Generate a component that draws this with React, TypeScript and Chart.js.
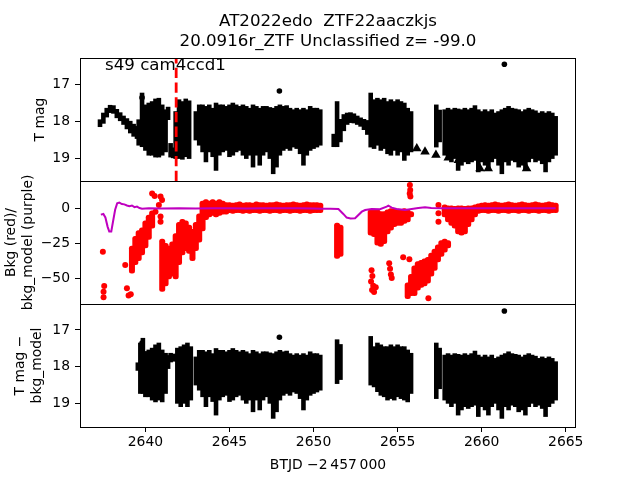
import React, { useEffect, useRef } from "react";
import { Chart, registerables } from "chart.js";

Chart.register(...registerables);

type Col = [number, number, number]; // [time, upper value, lower value]
type Pt = [number, number];

// ---------------- text ----------------
const titleLines = ["AT2022edo  ZTF22aaczkjs", "20.0916r_ZTF Unclassified z= -99.0"];
const sectorText = "s49 cam4ccd1";
const xTitle = "BTJD \u22122\u2009457\u2009000";
const magTitle = "T mag";
const bkgTitle = ["Bkg (red)/", "bkg_model (purple)"];
const detTitle = ["T mag \u2212", "bkg_model"];

// ---------------- axes ----------------
const timeRange: [number, number] = [2636.11, 2665.61];
const magRange: [number, number] = [16.29, 19.61];
const bkgRange: [number, number] = [-67.97, 19.39];
const detRange: [number, number] = [16.29, 19.65];
const timeTicks = [2640, 2645, 2650, 2655, 2660, 2665];
const magTicks = [17, 18, 19];
const bkgTicks = [0, -25, -50];
const markerTime = 2641.83;

// ---------------- panel 1: T mag ----------------
const magEarlyCols: Col[] = [
  [2637.3, 17.96, 18.14], [2637.5, 17.78, 18.05], [2637.7, 17.65, 17.88], [2637.9, 17.57, 17.76],
  [2638.1, 17.58, 17.78], [2638.3, 17.68, 17.9], [2638.5, 17.77, 17.98], [2638.7, 17.86, 18.08],
  [2638.9, 17.93, 18.2], [2639.1, 18.0, 18.31], [2639.3, 18.08, 18.4], [2639.5, 18.14, 18.46],
  [2639.6, 17.96, 18.64], [2639.8, 17.24, 18.68], [2640.0, 17.56, 18.78], [2640.2, 17.51, 18.91],
  [2640.4, 17.47, 18.91], [2640.6, 17.4, 18.96], [2640.8, 17.38, 18.96], [2641.0, 17.56, 18.91],
  [2641.2, 17.69, 18.82], [2641.35, 17.62, 17.95], [2641.5, 18.6, 18.96], [2641.65, 18.72, 18.98],
  [2641.8, 17.74, 19.0], [2642.0, 17.42, 19.0], [2642.2, 17.47, 19.02], [2642.4, 17.4, 18.95],
  [2642.6, 17.45, 19.0],
];
const quietCols1: Col[] = [
  [2643.0, 17.74, 18.5], [2643.2, 17.56, 18.64], [2643.4, 17.56, 18.82], [2643.6, 17.6, 19.09],
  [2643.8, 17.56, 18.82], [2644.0, 17.65, 18.95], [2644.2, 17.51, 19.32], [2644.4, 17.56, 18.91],
  [2644.6, 17.56, 18.82], [2644.8, 17.6, 18.78], [2645.0, 17.56, 18.95], [2645.2, 17.51, 18.91],
  [2645.4, 17.56, 18.82], [2645.6, 17.6, 18.78], [2645.8, 17.56, 18.91], [2646.0, 17.6, 19.0],
  [2646.2, 17.65, 18.91], [2646.4, 17.56, 19.23], [2646.6, 17.6, 18.91], [2646.8, 17.65, 19.18],
  [2647.0, 17.6, 18.91], [2647.2, 17.6, 18.82], [2647.4, 17.63, 19.0], [2647.6, 17.65, 19.41],
  [2647.8, 17.6, 19.23], [2648.0, 17.56, 18.91], [2648.2, 17.6, 18.78], [2648.4, 17.58, 18.73],
  [2648.6, 17.65, 18.78], [2648.8, 17.69, 18.69], [2649.0, 17.65, 18.73], [2649.2, 17.69, 18.87],
  [2649.4, 17.65, 19.18], [2649.6, 17.69, 18.91], [2649.8, 17.6, 18.78], [2650.0, 17.65, 18.73],
  [2650.2, 17.65, 18.69], [2650.4, 17.69, 18.64],
];
const magMidCols: Col[] = [
  [2651.2, 18.35, 18.68], [2651.4, 17.47, 18.68], [2651.6, 17.95, 18.55], [2651.8, 17.82, 18.25],
  [2652.0, 17.78, 18.08], [2652.2, 17.77, 18.03], [2652.4, 17.8, 18.04], [2652.6, 17.86, 18.08],
  [2652.8, 17.91, 18.13], [2653.0, 17.95, 18.22], [2653.2, 17.98, 18.35],
  [2653.4, 17.24, 18.69], [2653.6, 17.42, 18.73], [2653.8, 17.38, 18.64], [2654.0, 17.42, 18.78],
  [2654.2, 17.38, 18.73], [2654.4, 17.47, 18.87], [2654.6, 17.42, 18.91], [2654.8, 17.47, 18.78],
  [2655.0, 17.42, 18.91], [2655.2, 17.47, 18.82], [2655.4, 17.51, 19.05], [2655.6, 17.65, 18.91],
  [2655.8, 17.74, 18.82],
  [2657.3, 17.56, 18.69], [2657.5, 17.7, 18.55],
];
const quietCols2: Col[] = [
  [2657.8, 17.69, 18.91], [2658.0, 17.65, 19.0], [2658.2, 17.69, 19.09], [2658.4, 17.65, 19.0],
  [2658.6, 17.67, 19.32], [2658.8, 17.69, 19.18], [2659.0, 17.65, 19.09], [2659.2, 17.69, 19.14],
  [2659.4, 17.65, 19.09], [2659.6, 17.58, 19.05], [2659.8, 17.69, 19.36], [2660.0, 17.74, 19.09],
  [2660.2, 17.69, 19.18], [2660.4, 17.74, 19.32], [2660.6, 17.69, 19.09], [2660.8, 17.78, 19.0],
  [2661.0, 17.74, 19.18], [2661.2, 17.69, 19.41], [2661.4, 17.65, 19.09], [2661.6, 17.6, 19.18],
  [2661.8, 17.65, 19.05], [2662.0, 17.67, 19.09], [2662.2, 17.69, 19.23], [2662.4, 17.74, 19.18],
  [2662.6, 17.69, 19.32], [2662.8, 17.65, 19.09], [2663.0, 17.69, 19.0], [2663.2, 17.72, 19.09],
  [2663.4, 17.78, 19.05], [2663.6, 17.74, 19.14], [2663.8, 17.78, 19.36], [2664.0, 17.74, 19.09],
  [2664.2, 17.78, 19.0], [2664.4, 17.87, 18.91],
];
const magDots: Pt[] = [[2647.97, 17.18], [2661.35, 16.46], [2639.8, 17.36]];
const magUpperLimits: Pt[] = [
  [2656.14, 18.73], [2656.63, 18.82], [2657.28, 18.91], [2658.01, 18.98],
  [2658.61, 19.05], [2659.9, 19.27], [2660.39, 19.27], [2662.67, 19.27],
];

// ---------------- panel 2: background ----------------
const bkgCols: Col[] = [
  [2639.2, -27, -46], [2639.4, -20, -40], [2639.6, -16, -37], [2639.8, -14, -33],
  [2640.0, -9, -28], [2640.2, -5, -22], [2640.4, -2, -14],
  [2641.0, -22, -59], [2641.2, -25, -55], [2641.4, -27, -50], [2641.6, -24, -48],
  [2641.8, -18, -50], [2642.0, -10, -40], [2642.2, -8, -33], [2642.4, -9, -30],
  [2642.6, -12, -32], [2642.8, -15, -37], [2643.0, -10, -30], [2643.2, -4, -24],
  [2643.4, 5, -16], [2643.6, 6, -8], [2643.8, 5, -6], [2644.0, 6, -5], [2644.2, 5, -6],
  [2644.4, 6, -5], [2644.6, 5, -4], [2644.8, 4, -4],
  [2645.0, 4, -3], [2645.2, 3.5, -3.5], [2645.4, 4, -3], [2645.6, 4.5, -3], [2645.8, 3.5, -3.5],
  [2646.0, 4, -3], [2646.2, 4, -3.5], [2646.4, 3.5, -3], [2646.6, 4.5, -3], [2646.8, 4, -3.5],
  [2647.0, 4, -3], [2647.2, 3.5, -3], [2647.4, 4, -3.5], [2647.6, 4, -3], [2647.8, 4.5, -3],
  [2648.0, 4, -3.5], [2648.2, 3.5, -3], [2648.4, 4, -3], [2648.6, 4, -3.5], [2648.8, 4.5, -3],
  [2649.0, 4, -3], [2649.2, 3.5, -3.5], [2649.4, 4, -3], [2649.6, 4.5, -3], [2649.8, 4, -3.5],
  [2650.0, 4, -3], [2650.2, 4, -3], [2650.4, 3.5, -3],
  [2651.4, -10.7, -35.5], [2651.6, -12, -34],
  [2653.4, -1.2, -19], [2653.6, -0.7, -20], [2653.8, -1.2, -26], [2654.0, -2.4, -27],
  [2654.2, -2.4, -25], [2654.4, -1.2, -18], [2654.6, 0, -15.4], [2654.8, 0, -13],
  [2655.0, -0.7, -12], [2655.2, -1.2, -12], [2655.4, 0, -10.7], [2655.6, -1.2, -9.5],
  [2655.8, -2.4, -6],
  [2655.6, -53, -64], [2655.8, -47, -62], [2656.0, -41, -62], [2656.2, -38, -58],
  [2656.4, -37, -56], [2656.6, -36, -55], [2656.8, -35, -53], [2657.0, -32, -48],
  [2657.2, -29, -44], [2657.4, -26, -38], [2657.6, -23, -34], [2657.8, -22, -31],
  [2658.0, -23, -28],
  [2657.8, 2.3, -6], [2658.0, 1.6, -9.5], [2658.2, 1.6, -12], [2658.4, 1.2, -14],
  [2658.6, 1.6, -18], [2658.8, 1.6, -19], [2659.0, 1.2, -18], [2659.2, 1.6, -13],
  [2659.4, 1.6, -9.5], [2659.6, 2.3, -6], [2659.8, 3, -3.6],
  [2660.0, 3.5, -3], [2660.2, 4, -3], [2660.4, 3.5, -3.5], [2660.6, 4, -3], [2660.8, 4.5, -3],
  [2661.0, 4, -3.5], [2661.2, 3.5, -3], [2661.4, 4, -3], [2661.6, 4.5, -3.5], [2661.8, 4, -3],
  [2662.0, 3.5, -3], [2662.2, 4, -3.5], [2662.4, 4.5, -3], [2662.6, 4, -3], [2662.8, 3.5, -3.5],
  [2663.0, 4, -3], [2663.2, 4.5, -3], [2663.4, 4, -3.5], [2663.6, 3.5, -3], [2663.8, 4, -3],
  [2664.0, 4.5, -3.5], [2664.2, 4, -3], [2664.4, 3.5, -3],
];
const bkgDots: Pt[] = [
  [2637.47, -30.8], [2637.55, -55.2], [2637.51, -59.2], [2637.51, -63.2],
  [2638.8, -40.3], [2638.9, -56.8], [2639.0, -62.0], [2639.13, -61.1],
  [2640.4, 10.6], [2640.55, 8.7], [2640.9, 8.3], [2640.99, 5.9], [2640.8, 2.3],
  [2640.6, -2.4], [2640.9, -5.9], [2640.9, -9.5],
  [2653.45, -44], [2653.5, -48], [2653.42, -52], [2653.55, -55], [2653.48, -58],
  [2653.6, -59.5], [2653.7, -56],
  [2654.5, -39], [2654.55, -43], [2654.6, -47], [2654.65, -49.5],
  [2655.33, -34.8], [2655.7, -36.2],
  [2655.73, 16.5], [2655.75, 13.0], [2655.72, 10.5], [2655.76, 8.3],
  [2656.83, -63.9],
  [2657.43, 2.3], [2657.43, -3.5], [2657.43, -9.5],
];
const bkgModel: Pt[] = [
  [2637.35, -4.5], [2637.5, -4.0], [2637.62, -6.5], [2637.75, -13], [2637.85, -16.5],
  [2637.97, -16.5], [2638.08, -9], [2638.2, -1], [2638.32, 3.5], [2638.45, 4.0],
  [2638.6, 3.0], [2638.75, 2.8], [2638.9, 2.0], [2639.05, 1.5], [2639.2, 2.0],
  [2639.35, 0.8], [2639.5, 1.2], [2639.65, 0.2], [2639.8, -0.3], [2640.2, 0],
  [2641.0, -0.2], [2642.0, 0], [2643.0, -0.2], [2644.0, 0], [2645.0, 0.1],
  [2646.0, -0.1], [2647.0, 0], [2648.0, 0.1], [2649.0, 0], [2650.0, -0.2],
  [2650.5, -0.4], [2651.0, -0.4], [2651.48, -0.5], [2651.77, -4.0], [2651.97, -6.6],
  [2652.2, -7.2], [2652.47, -7.1], [2652.87, -2.4], [2653.07, -1.2], [2653.46, -0.5],
  [2653.95, -0.7], [2654.35, 1.2], [2654.45, 1.9], [2654.65, 0.5], [2654.94, -0.5],
  [2655.2, -0.8], [2655.44, -1.2], [2655.74, -0.7], [2656.23, 0.2], [2656.63, 0.7],
  [2657.0, 0.3], [2657.63, 0], [2658.5, 0], [2660.0, 0], [2662.0, 0], [2664.4, 0],
];

// ---------------- panel 3: T mag - bkg_model ----------------
const detEarlyCols: Col[] = [
  [2639.55, 17.9, 18.1], [2639.7, 17.36, 18.73], [2639.85, 17.23, 18.73], [2640.0, 17.59, 18.82],
  [2640.2, 17.55, 18.82], [2640.4, 17.5, 18.91], [2640.6, 17.41, 18.96], [2640.8, 17.36, 18.91],
  [2641.0, 17.55, 18.96], [2641.2, 17.64, 18.73], [2641.35, 17.7, 18.05],
  [2641.5, 17.64, 17.87], [2641.7, 17.66, 17.85],
  [2641.9, 17.5, 19.0], [2642.1, 17.46, 19.09], [2642.3, 17.41, 19.0], [2642.5, 17.36, 19.09],
  [2642.7, 17.46, 18.91],
];
const detMidCols: Col[] = [
  [2651.4, 17.27, 18.46], [2651.6, 17.4, 18.35],
  [2653.4, 17.18, 18.5], [2653.6, 17.46, 18.55], [2653.8, 17.36, 18.68], [2654.0, 17.41, 18.78],
  [2654.2, 17.46, 18.82], [2654.4, 17.46, 18.91], [2654.6, 17.41, 18.87], [2654.8, 17.46, 18.91],
  [2655.0, 17.41, 18.82], [2655.2, 17.46, 18.87], [2655.4, 17.46, 18.91], [2655.6, 17.55, 18.96],
  [2655.8, 17.64, 18.73],
  [2657.3, 17.36, 18.87], [2657.5, 17.5, 18.6],
];
const detDots: Pt[] = [[2647.97, 17.2], [2661.35, 16.48], [2639.8, 17.36]];

// ---------------- styling helpers ----------------
const FONT = '"DejaVu Sans", "Liberation Sans", sans-serif';
const TICK_SIZE = 13.9;
const TITLE_SIZE = 16.67;
Chart.defaults.font.family = FONT;

const fmt = (v: number) => (v < 0 ? "\u2212" + Math.abs(v) : String(v));

function yScale(range: [number, number], reverse: boolean, ticks: number[], title: string | string[], titlePad: number) {
  return {
    type: "linear",
    min: range[0],
    max: range[1],
    reverse,
    beginAtZero: false,
    afterBuildTicks: (s: any) => {
      s.ticks = ticks.map((v) => ({ value: v }));
    },
    afterFit: (s: any) => {
      s.width = 80;
    },
    grid: { display: true, drawOnChartArea: false, drawTicks: true, tickLength: 5, color: "#000", lineWidth: 1 },
    border: { display: false },
    ticks: {
      color: "#000",
      padding: 5,
      autoSkip: false,
      font: { family: FONT, size: TICK_SIZE },
      callback: (v: any) => fmt(Number(v)),
    },
    title: {
      display: true,
      text: title,
      color: "#000",
      font: { family: FONT, size: TICK_SIZE, lineHeight: 1.2 },
      padding: { top: titlePad, bottom: 0 },
    },
  };
}

function hiddenX() {
  return { type: "linear", min: timeRange[0], max: timeRange[1], display: false, offset: false, grid: { offset: false } };
}

// floating bars (one bar dataset per chart); inflateAmount closes any seam between neighbours
function columns(cols: Col[], color: string, thickness: number, radius: number, inflate: number) {
  return {
    type: "bar",
    data: cols.map(([x, a, b]) => ({ x, y: [a, b] })),
    backgroundColor: color,
    borderWidth: 0,
    borderSkipped: false,
    borderRadius: radius,
    barThickness: thickness,
    inflateAmount: inflate,
  };
}

function dots(pts: Pt[], color: string, radius: number, style = "circle") {
  return {
    type: "scatter",
    data: pts.map(([x, y]) => ({ x, y })),
    pointRadius: radius,
    pointStyle: style,
    backgroundColor: color,
    borderColor: color,
    borderWidth: 0,
    showLine: false,
  };
}

function baseOptions(padTop: number, padBottom: number, scales: any) {
  return {
    responsive: false,
    animation: false,
    events: [],
    layout: { padding: { top: padTop, bottom: padBottom, left: 0, right: 64 }, autoPadding: false },
    plugins: { legend: { display: false }, tooltip: { enabled: false }, title: { display: false } },
    scales,
  };
}

const framePlugin = {
  id: "frame",
  afterDraw(chart: any) {
    const { ctx, chartArea: a } = chart;
    ctx.save();
    ctx.strokeStyle = "#000";
    ctx.lineWidth = 1;
    ctx.strokeRect(a.left + 0.5, a.top + 0.5, a.right - a.left - 1, a.bottom - a.top);
    ctx.restore();
  },
};

const headerPlugin = {
  id: "header",
  afterDatasetsDraw(chart: any) {
    const { ctx, chartArea: a } = chart;
    const x = chart.scales.x.getPixelForValue(markerTime);
    ctx.save();
    ctx.strokeStyle = "#ff0000";
    ctx.lineWidth = 2.8;
    ctx.setLineDash([10.3, 4.4]);
    ctx.beginPath();
    ctx.moveTo(x, a.bottom);
    ctx.lineTo(x, a.top);
    ctx.stroke();
    ctx.restore();
  },
  afterDraw(chart: any) {
    const { ctx, chartArea: a } = chart;
    ctx.save();
    ctx.fillStyle = "#000";
    ctx.font = `${TITLE_SIZE}px ${FONT}`;
    ctx.textBaseline = "alphabetic";
    ctx.textAlign = "center";
    const cx = (a.left + a.right) / 2;
    ctx.fillText(titleLines[0], cx, 26);
    ctx.fillText(titleLines[1], cx, 46);
    ctx.textAlign = "left";
    ctx.fillText(sectorText, a.left + 25, a.top + 12);
    ctx.restore();
  },
};

function buildTop(): any {
  return {
    type: "bar",
    data: {
      datasets: [
        dots(magUpperLimits, "#000", 5.5, "triangle"),
        dots(magDots, "#000", 2.8),
        columns([...magEarlyCols, ...quietCols1, ...magMidCols, ...quietCols2], "#000", 3.6, 0, 0.5),
      ],
    },
    options: baseOptions(58, 299, { x: hiddenX(), y: yScale(magRange, true, magTicks, magTitle, 31.6) }),
    plugins: [headerPlugin, framePlugin],
  };
}

function buildMid(): any {
  return {
    type: "bar",
    data: {
      datasets: [
        {
          type: "line",
          data: bkgModel.map(([x, y]) => ({ x, y })),
          borderColor: "#bf00bf",
          borderWidth: 2,
          pointRadius: 0,
          tension: 0,
          fill: false,
        },
        dots(bkgDots, "#ff0000", 3),
        columns(bkgCols, "#ff0000", 5, 2.5, 0.5),
      ],
    },
    options: baseOptions(181, 176, { x: hiddenX(), y: yScale(bkgRange, false, bkgTicks, bkgTitle, 3.2) }),
    plugins: [framePlugin],
  };
}

function buildBottom(): any {
  return {
    type: "bar",
    data: {
      datasets: [
        dots(detDots, "#000", 2.8),
        columns([...detEarlyCols, ...quietCols1, ...detMidCols, ...quietCols2], "#000", 3.6, 0, 0.5),
      ],
    },
    options: baseOptions(304, 0, {
      x: {
        type: "linear",
        min: timeRange[0],
        max: timeRange[1],
        offset: false,
        afterBuildTicks: (s: any) => {
          s.ticks = timeTicks.map((v) => ({ value: v }));
        },
        afterFit: (s: any) => {
          s.height = 53;
        },
        grid: { display: true, offset: false, drawOnChartArea: false, drawTicks: true, tickLength: 5, color: "#000", lineWidth: 1 },
        border: { display: false },
        ticks: {
          color: "#000",
          padding: 2,
          autoSkip: false,
          maxRotation: 0,
          font: { family: FONT, size: TICK_SIZE },
          callback: (v: any) => String(v),
        },
        title: {
          display: true,
          text: xTitle,
          color: "#000",
          font: { family: FONT, size: TICK_SIZE, lineHeight: 1.2 },
          padding: { top: 0, bottom: 6.6 },
        },
      },
      y: yScale(detRange, true, magTicks, detTitle, 12),
    }),
    plugins: [framePlugin],
  };
}

function ChartCanvas({ build }: { build: () => any }) {
  const ref = useRef<HTMLCanvasElement>(null);
  useEffect(() => {
    const chart = new Chart(ref.current as HTMLCanvasElement, build());
    return () => chart.destroy();
  }, [build]);
  return (
    <canvas
      ref={ref}
      width={640}
      height={480}
      style={{ position: "absolute", left: 0, top: 0, width: 640, height: 480 }}
    />
  );
}

export default function App() {
  return (
    <div style={{ position: "fixed", left: 0, top: 0, width: 640, height: 480, background: "#fff" }}>
      <ChartCanvas build={buildTop} />
      <ChartCanvas build={buildMid} />
      <ChartCanvas build={buildBottom} />
    </div>
  );
}
